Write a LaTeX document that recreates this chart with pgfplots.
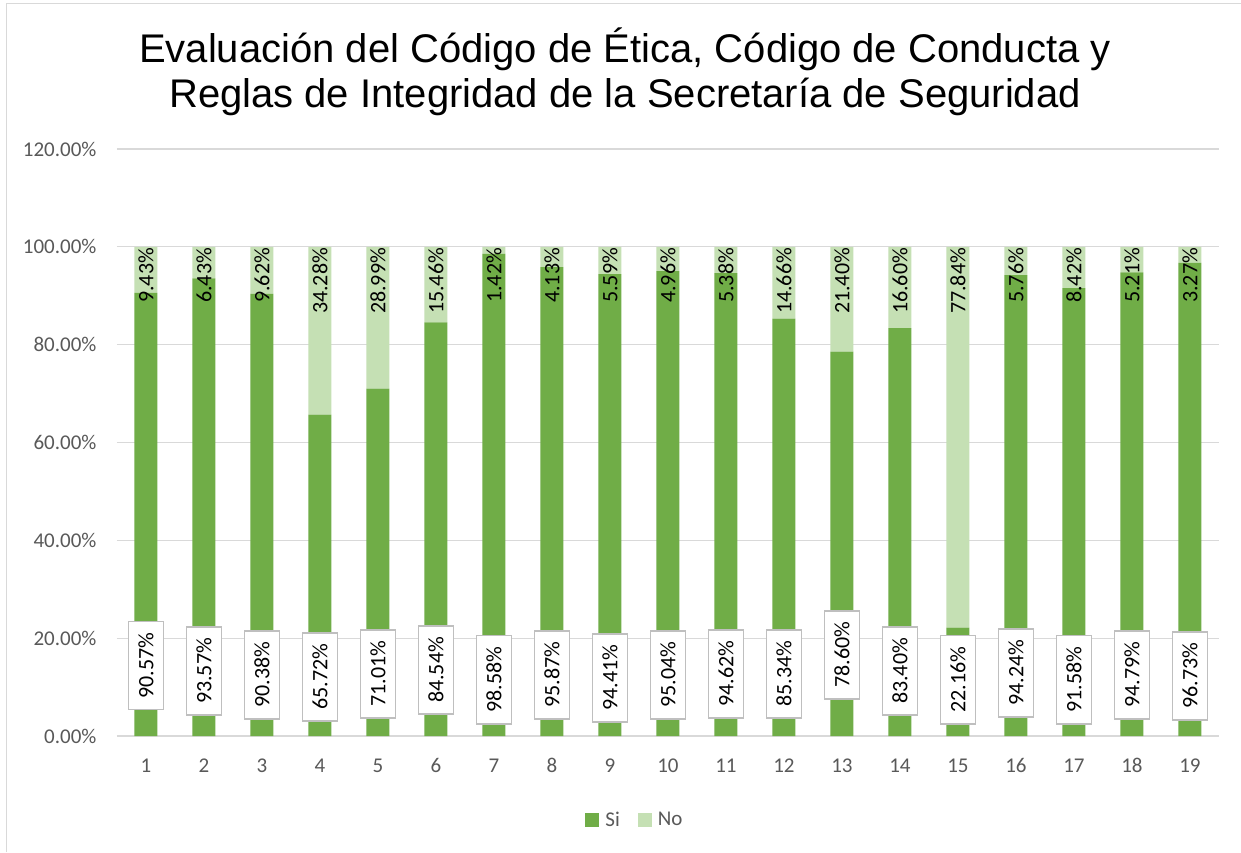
\documentclass[border=0pt]{standalone}
\usepackage{pgfplots}
\pgfplotsset{compat=1.18}
\usepackage{pgfplotstable}
\usepackage{fontspec}
\setmainfont{Carlito}
\newfontfamily\titlef{Liberation Sans}
\definecolor{sigreen}{HTML}{70AD47}
\definecolor{nogreen}{HTML}{C5E0B4}
\definecolor{tickgray}{HTML}{595959}
\definecolor{gridgray}{HTML}{D9D9D9}
\definecolor{boxgray}{HTML}{BFBFBF}

\pgfplotstableread{
x si silab lpos
1 90.57 90.57\% 14.4
2 93.57 93.57\% 13.3
3 90.38 90.38\% 12.5
4 65.72 65.72\% 12.1
5 71.01 71.01\% 12.7
6 84.54 84.54\% 13.5
7 98.58 98.58\% 11.5
8 95.87 95.87\% 12.5
9 94.41 94.41\% 11.9
10 95.04 95.04\% 12.5
11 94.62 94.62\% 12.7
12 85.34 85.34\% 12.7
13 78.60 78.60\% 16.6
14 83.40 83.40\% 13.3
15 22.16 22.16\% 11.5
16 94.24 94.24\% 12.9
17 91.58 91.58\% 11.5
18 94.79 94.79\% 12.5
19 96.73 96.73\% 12.3
}\sitable

\pgfplotstableread{
x no nolab top
1 9.43 9.43\% 100
2 6.43 6.43\% 100
3 9.62 9.62\% 100
4 34.28 34.28\% 100
5 28.99 28.99\% 100
6 15.46 15.46\% 100
7 1.42 1.42\% 100
8 4.13 4.13\% 100
9 5.59 5.59\% 100
10 4.96 4.96\% 100
11 5.38 5.38\% 100
12 14.66 14.66\% 100
13 21.40 21.40\% 100
14 16.60 16.60\% 100
15 77.84 77.84\% 100
16 5.76 5.76\% 100
17 8.42 8.42\% 100
18 5.21 5.21\% 100
19 3.27 3.27\% 100
}\notable

\begin{document}
\begin{tikzpicture}
\useasboundingbox (-117pt,-116pt) rectangle (1124pt,736pt);
\fill[white] (-117pt,-116pt) rectangle (1124pt,736pt);
\draw[gridgray, line width=1pt] (-110pt,-116pt) -- (-110pt,732pt) -- (1124pt,732pt);
\node[font=\titlef\fontsize{40}{45}\selectfont, align=center] at (508pt,664pt) {Evaluación del Código de Ética, Código de Conducta y\\Reglas de Integridad de la Secretaría de Seguridad};

\begin{axis}[
  at={(0pt,0pt)}, anchor=south west,
  scale only axis, width=1102pt, height=587pt,
  ybar stacked, bar width=23pt,
  xmin=0.5, xmax=19.5, ymin=0, ymax=120,
  xtick={1,...,19}, ytick={0,20,...,120},
  /pgf/number format/assume math mode=true,
  xticklabel={\pgfmathprintnumber{\tick}},
  yticklabel={\pgfmathprintnumber[fixed,fixed zerofill,precision=2]{\tick}\%},
  ymajorgrids, grid style={gridgray, line width=1.2pt},
  axis line style={draw=none},
  major tick length=0pt,
  tick label style={font=\fontsize{21}{24}\selectfont, text=tickgray},
  xticklabel style={yshift=-19pt},
  yticklabel style={xshift=-17pt},
  legend style={at={(0.47,-0.143)}, anchor=center, draw=none, fill=none,
    legend columns=2, font=\fontsize{21}{24}\selectfont, text=tickgray,
    /tikz/every odd column/.append style={column sep=4pt},
    /tikz/every even column/.append style={column sep=16pt}},
  legend image code/.code={\fill[#1,draw=none] (0pt,-7pt) rectangle (14pt,7pt);},
  clip=false,
]
\addplot[fill=sigreen, draw=none] table[x=x, y=si] {\sitable};
\addlegendentry{Si}
\addplot[fill=nogreen, draw=none] table[x=x, y=no] {\notable};
\addlegendentry{No}
\end{axis}

\begin{axis}[
  at={(0pt,0pt)}, anchor=south west,
  scale only axis, width=1102pt, height=587pt,
  xmin=0.5, xmax=19.5, ymin=0, ymax=120,
  hide axis, clip=false,
]
\addplot[only marks, mark=none,
  nodes near coords, point meta=explicit symbolic,
  every node near coord/.style={rotate=90, anchor=east, inner sep=1pt,
    font=\fontsize{22}{24}\selectfont, text=black}]
  table[x=x, y=top, meta=nolab] {\notable};
\addplot[only marks, mark=none,
  nodes near coords, point meta=explicit symbolic,
  every node near coord/.style={rotate=90, anchor=center, inner sep=0pt,
    fill=white, draw=boxgray, line width=1.5pt,
    minimum width=88pt, minimum height=35pt,
    font=\fontsize{22}{24}\selectfont, text=black}]
  table[x=x, y=lpos, meta=silab] {\sitable};
\end{axis}
\end{tikzpicture}
\end{document}
